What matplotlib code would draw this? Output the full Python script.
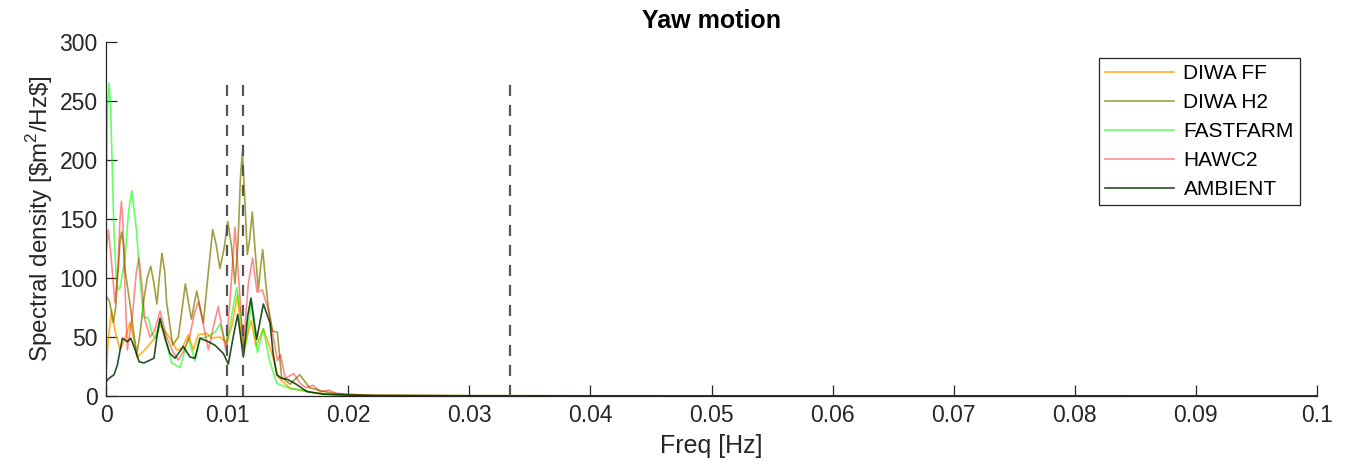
import numpy as np
import matplotlib
matplotlib.use("Agg")
import matplotlib.pyplot as plt

plt.rcParams['font.family'] = ['Liberation Sans', 'DejaVu Sans']
plt.rcParams['mathtext.fontset'] = 'custom'
plt.rcParams['mathtext.rm'] = 'Liberation Sans'

# yaw spectra, frequencies in mHz
f_diwa_ff = [0, 0.2, 0.47, 0.75, 1.16, 1.6, 1.98, 2.3, 2.55, 3.1, 3.7, 4.1, 4.46, 5.0, 5.42,
             5.84, 6.25, 6.8, 7.21, 7.62, 8.31, 8.73, 9.41, 9.97, 10.4, 10.85, 11.3, 11.97,
             12.4, 12.99, 13.7, 14.2, 15.2, 16.3, 17.4, 19, 22, 30, 50, 100]
s_diwa_ff = [18, 50, 72, 55, 39, 50, 62, 48, 33, 38, 45, 50, 60, 53, 47,
             39, 40, 52, 39, 52, 53, 49, 50, 45, 60, 85, 35, 64,
             42, 57, 36, 16, 6.5, 4.5, 2.3, 1.0, 0.3, 0.15, 0.08, 0.03]

f_diwa_h2 = [0, 0.3, 0.6, 0.8, 0.95, 1.15, 1.29, 1.45, 1.6, 1.98, 2.3, 2.55, 2.8, 3.1, 3.4,
             3.69, 3.95, 4.2, 4.4, 4.62, 4.85, 5.0, 5.5, 5.97, 6.3, 6.55, 6.8, 7.05, 7.49,
             8.04, 8.4, 8.81, 9.1, 9.41, 9.75, 10.05, 10.35, 10.65, 10.9, 11.1, 11.26, 11.42,
             11.67, 11.85, 12.08, 12.3, 12.58, 12.75, 12.94, 13.15, 13.4, 13.75, 14.15, 14.5,
             15.2, 16.0, 16.8, 17.9, 19, 20, 22, 30, 50, 100]
s_diwa_h2 = [85, 80, 62, 75, 100, 130, 139, 128, 105, 78, 52, 36, 52, 80, 100,
             110, 96, 78, 100, 121, 105, 80, 43, 50, 75, 95, 80, 65, 89,
             62, 100, 141, 128, 108, 125, 148, 128, 95, 130, 185, 207, 175,
             120, 132, 156, 125, 90, 108, 124, 100, 75, 55, 54, 16,
             10, 18, 7, 4, 2, 1.2, 0.5, 0.2, 0.1, 0.05]

f_fastfarm = [0, 0.05, 0.12, 0.25, 0.38, 0.5, 0.65, 0.85, 1.0, 1.16, 1.57, 1.85, 2.12, 2.35,
              2.53, 2.8, 3.08, 3.5, 3.75, 4.05, 4.46, 4.87, 5.42, 6.11, 6.8, 7.35, 7.76, 8.3,
              9.0, 9.41, 9.97, 10.4, 10.8, 11.1, 11.42, 11.97, 12.5, 12.99, 13.5, 14.1, 15.2,
              16.3, 17.4, 19, 22, 30, 50, 100]
s_fastfarm = [140, 190, 245, 265, 245, 200, 140, 100, 90, 92, 116, 155, 174, 155,
              139, 100, 67, 66, 54, 49, 64, 50, 28, 24, 49, 30, 49, 50,
              54, 61, 42, 70, 92, 70, 36, 78, 37, 57, 30, 10.7, 6.5,
              4.5, 2.3, 1.0, 0.3, 0.15, 0.08, 0.03]

f_hawc2 = [0, 0.19, 0.4, 0.74, 1.0, 1.15, 1.27, 1.4, 1.5, 1.76, 2.2, 2.5, 2.72, 2.95, 3.2,
           3.63, 4.0, 4.46, 5.0, 5.5, 5.97, 6.4, 6.9, 7.3, 7.62, 7.95, 8.45, 8.9, 9.27, 9.9,
           10.3, 10.65, 10.95, 11.34, 11.75, 12.1, 12.47, 12.9, 13.4, 13.9, 14.15, 14.4,
           14.8, 15.5, 16.0, 16.5, 17.1, 17.7, 18.4, 19, 20, 22, 30, 50, 100]
s_hawc2 = [120, 141, 120, 79, 110, 150, 165, 145, 110, 39, 70, 105, 117, 95, 65,
           50, 55, 72, 50, 38, 30.5, 38, 50, 70, 80, 65, 39, 60, 76, 38,
           90, 143, 100, 42, 95, 117, 88, 90, 73, 45, 30, 35,
           15, 19, 11, 7, 9, 3.6, 5, 2.3, 1.5, 0.5, 0.2, 0.1, 0.05]

f_ambient = [0, 0.25, 0.66, 0.93, 1.35, 1.76, 2.04, 2.45, 2.73, 3.14, 3.55, 3.96, 4.2, 4.46,
             4.87, 5.28, 5.70, 6.38, 6.94, 7.35, 7.76, 8.45, 9.0, 9.69, 10.1, 10.5, 10.87,
             11.34, 11.7, 11.97, 12.44, 12.99, 13.54, 13.8, 14.1, 14.5, 15.0, 15.7, 16.6, 18,
             20, 22, 30, 50, 100]
s_ambient = [12, 15, 18, 26, 49, 46, 49, 38, 29, 28, 30, 32, 50, 66,
             49, 36, 32, 42, 33, 32, 49, 46, 43, 36, 27, 50, 69,
             33, 68, 83, 48, 78, 62, 36, 18, 15, 14, 10, 3.7, 1.5,
             0.8, 0.3, 0.15, 0.08, 0.03]

series = [
    ("DIWA FF", f_diwa_ff, s_diwa_ff, '#FFA500', 0.85),
    ("DIWA H2", f_diwa_h2, s_diwa_h2, '#808000', 0.75),
    ("FASTFARM", f_fastfarm, s_fastfarm, '#00FF00', 0.6),
    ("HAWC2", f_hawc2, s_hawc2, '#FF0000', 0.45),
    ("AMBIENT", f_ambient, s_ambient, '#003300', 0.85),
]

# reference frequencies [Hz]
f_marks = [0.01, 0.0113, 1 / 30]
mark_top = 265

fig = plt.figure(figsize=(13.54, 4.69), dpi=100)
ax = fig.add_axes([0.0783, 0.1557, 0.8944, 0.7547])

for name, f, s, c, a in series:
    ax.plot(np.array(f) / 1000, s, color=c, alpha=a, lw=1.2, label=name)

ax.vlines(f_marks, 0, mark_top, colors='#555555', linestyles=(0, (5, 4)), lw=1.6)

ax.set_xlim(0, 0.1)
ax.set_ylim(0, 300)
ax.set_xticks(np.arange(0, 0.1001, 0.01))
ax.set_xticklabels(['0'] + ['%.2f' % v for v in np.arange(0.01, 0.0951, 0.01)] + ['0.1'])
ax.set_yticks(np.arange(0, 301, 50))

for side in ['top', 'right']:
    ax.spines[side].set_visible(False)
for side in ['left', 'bottom']:
    ax.spines[side].set_color('#262626')
    ax.spines[side].set_linewidth(0.9)
ax.tick_params(direction='in', length=8, width=0.9, color='#262626',
               labelcolor='#262626', labelsize=16.5, pad=6)

ax.set_xlabel('Freq [Hz]', fontsize=18, color='#262626', labelpad=5)
ax.set_ylabel(r'Spectral density [\$m$^{2}$/Hz\$]', fontsize=17.5, color='#262626', labelpad=3)
ax.set_title('Yaw motion', fontsize=18, fontweight='bold', color='black', pad=10)

leg = ax.legend(loc='upper right', bbox_to_anchor=(0.986, 0.955), borderaxespad=0,
                fontsize=15, handlelength=3.3, handletextpad=0.45, labelspacing=0.48,
                fancybox=False, framealpha=1, edgecolor='#262626', borderpad=0.3)
leg.get_frame().set_linewidth(0.9)

fig.savefig('out.png', dpi=100)
